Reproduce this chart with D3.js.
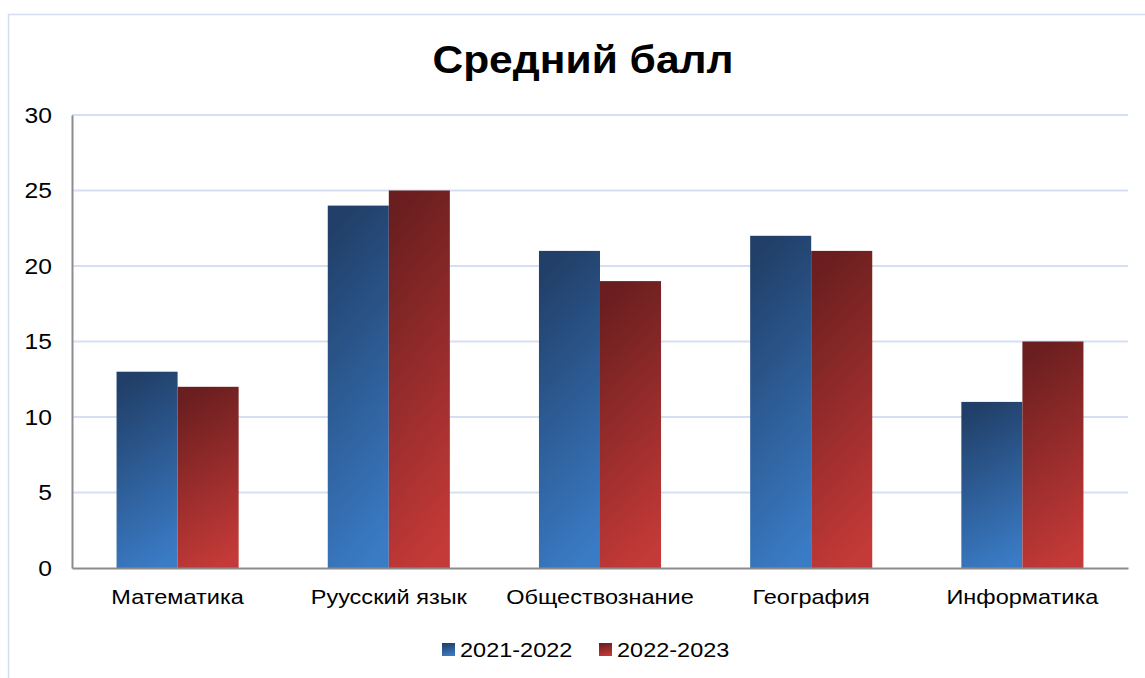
<!DOCTYPE html>
<html>
<head>
<meta charset="utf-8">
<script src="https://cdn.jsdelivr.net/npm/d3@7"></script>
<style>
  html, body { margin: 0; padding: 0; background: #fff; }
  svg { display: block; font-family: "Liberation Sans", Arial, sans-serif; }
</style>
</head>
<body>
<div id="chart"></div>
<script>
/** chart data */
const title = "Средний балл";
const subjects = ["Математика", "Руусский язык", "Обществознание", "География", "Информатика"];
const seriesNames = ["2021-2022", "2022-2023"];
const values2021 = [13, 24, 21, 22, 11];
const values2022 = [12, 25, 19, 21, 15];
const yTicks = [0, 5, 10, 15, 20, 25, 30];

const width = 1145;
const height = 678;
const margin = { left: 72, right: 17, top: 115, bottom: 110 };
/** the reference text is a bit wider than Liberation Sans */
const stretch = 1.12;

const svg = d3.select("#chart").append("svg")
  .attr("width", width)
  .attr("height", height);

/** gradients for both series */
const defs = svg.append("defs");
const gradients = [
  { id: "g-blue", top: "#213f68", bottom: "#3a7bc5" },
  { id: "g-red", top: "#6a1e1f", bottom: "#c43a38" },
];
for (const { id, top, bottom } of gradients) {
  const g = defs.append("linearGradient")
    .attr("id", id)
    .attr("x1", 0.4).attr("y1", 0)
    .attr("x2", 0.6).attr("y2", 1);
  g.append("stop").attr("offset", "0%").attr("stop-color", top);
  g.append("stop").attr("offset", "100%").attr("stop-color", bottom);
}

/** outer chart border */
svg.append("path")
  .attr("d", `M8.5,${height} V14.5 H${width}`)
  .attr("fill", "none")
  .attr("stroke", "#d3ddef")
  .attr("stroke-width", 1.5);

/** title */
svg.append("text")
  .text(title)
  .attr("transform", `translate(583,73) scale(${stretch},1)`)
  .attr("text-anchor", "middle")
  .attr("font-size", 38)
  .attr("font-weight", "bold")
  .attr("fill", "#000");

/** scales */
const x0 = d3.scaleBand()
  .domain(subjects)
  .range([margin.left, width - margin.right])
  .paddingInner(0)
  .paddingOuter(0);

const x1 = d3.scaleBand()
  .domain(seriesNames)
  .range([0, x0.bandwidth()])
  .paddingOuter(0.73)
  .paddingInner(0);

const y = d3.scaleLinear()
  .domain([0, 30])
  .range([height - margin.bottom, margin.top]);

/** gridlines */
svg.append("g")
  .selectAll("line")
  .data(yTicks.filter((d) => d > 0))
  .join("line")
  .attr("x1", margin.left)
  .attr("x2", width - margin.right)
  .attr("y1", (d) => y(d))
  .attr("y2", (d) => y(d))
  .attr("stroke", "#d5dff2")
  .attr("stroke-width", 2);

/** bars */
const rows = subjects.map((s, i) => ({ subject: s, values: [values2021[i], values2022[i]] }));
const fills = ["url(#g-blue)", "url(#g-red)"];
svg.append("g")
  .selectAll("g")
  .data(rows)
  .join("g")
  .attr("transform", (d) => `translate(${x0(d.subject)},0)`)
  .selectAll("rect")
  .data((d) => d.values.map((v, i) => ({ key: seriesNames[i], value: v, i })))
  .join("rect")
  .attr("x", (d) => x1(d.key))
  .attr("width", x1.bandwidth())
  .attr("y", (d) => y(d.value))
  .attr("height", (d) => y(0) - y(d.value))
  .attr("fill", (d) => fills[d.i]);

/** y axis */
const yAxis = d3.axisLeft(y).tickValues(yTicks).tickSize(0).tickPadding(18);
const yG = svg.append("g")
  .attr("transform", `translate(${margin.left},0)`)
  .call(yAxis);
yG.select(".domain").attr("stroke", "#8c8c8c").attr("stroke-width", 2);
yG.selectAll("text")
  .attr("font-size", 22)
  .attr("font-family", "Liberation Sans, Arial, sans-serif")
  .attr("fill", "#000")
  .attr("transform", `scale(${stretch},1)`);

/** x axis */
const xAxis = d3.axisBottom(x0).tickSize(0).tickPadding(21);
const xG = svg.append("g")
  .attr("transform", `translate(0,${y(0)})`)
  .call(xAxis);
xG.select(".domain").attr("stroke", "#8c8c8c").attr("stroke-width", 2);
xG.selectAll("text")
  .attr("font-size", 21)
  .attr("font-family", "Liberation Sans, Arial, sans-serif")
  .attr("fill", "#000")
  .attr("transform", `scale(${stretch},1)`);

/** legend */
const legendItems = [
  { name: seriesNames[0], fill: fills[0], x: 442 },
  { name: seriesNames[1], fill: fills[1], x: 599 },
];
const legend = svg.append("g");
for (const { name, fill, x } of legendItems) {
  legend.append("rect")
    .attr("x", x)
    .attr("y", 643)
    .attr("width", 13)
    .attr("height", 13)
    .attr("fill", fill);
  legend.append("text")
    .text(name)
    .attr("transform", `translate(${x + 18},657) scale(${stretch},1)`)
    .attr("font-size", 21)
    .attr("fill", "#000");
}
</script>
</body>
</html>
